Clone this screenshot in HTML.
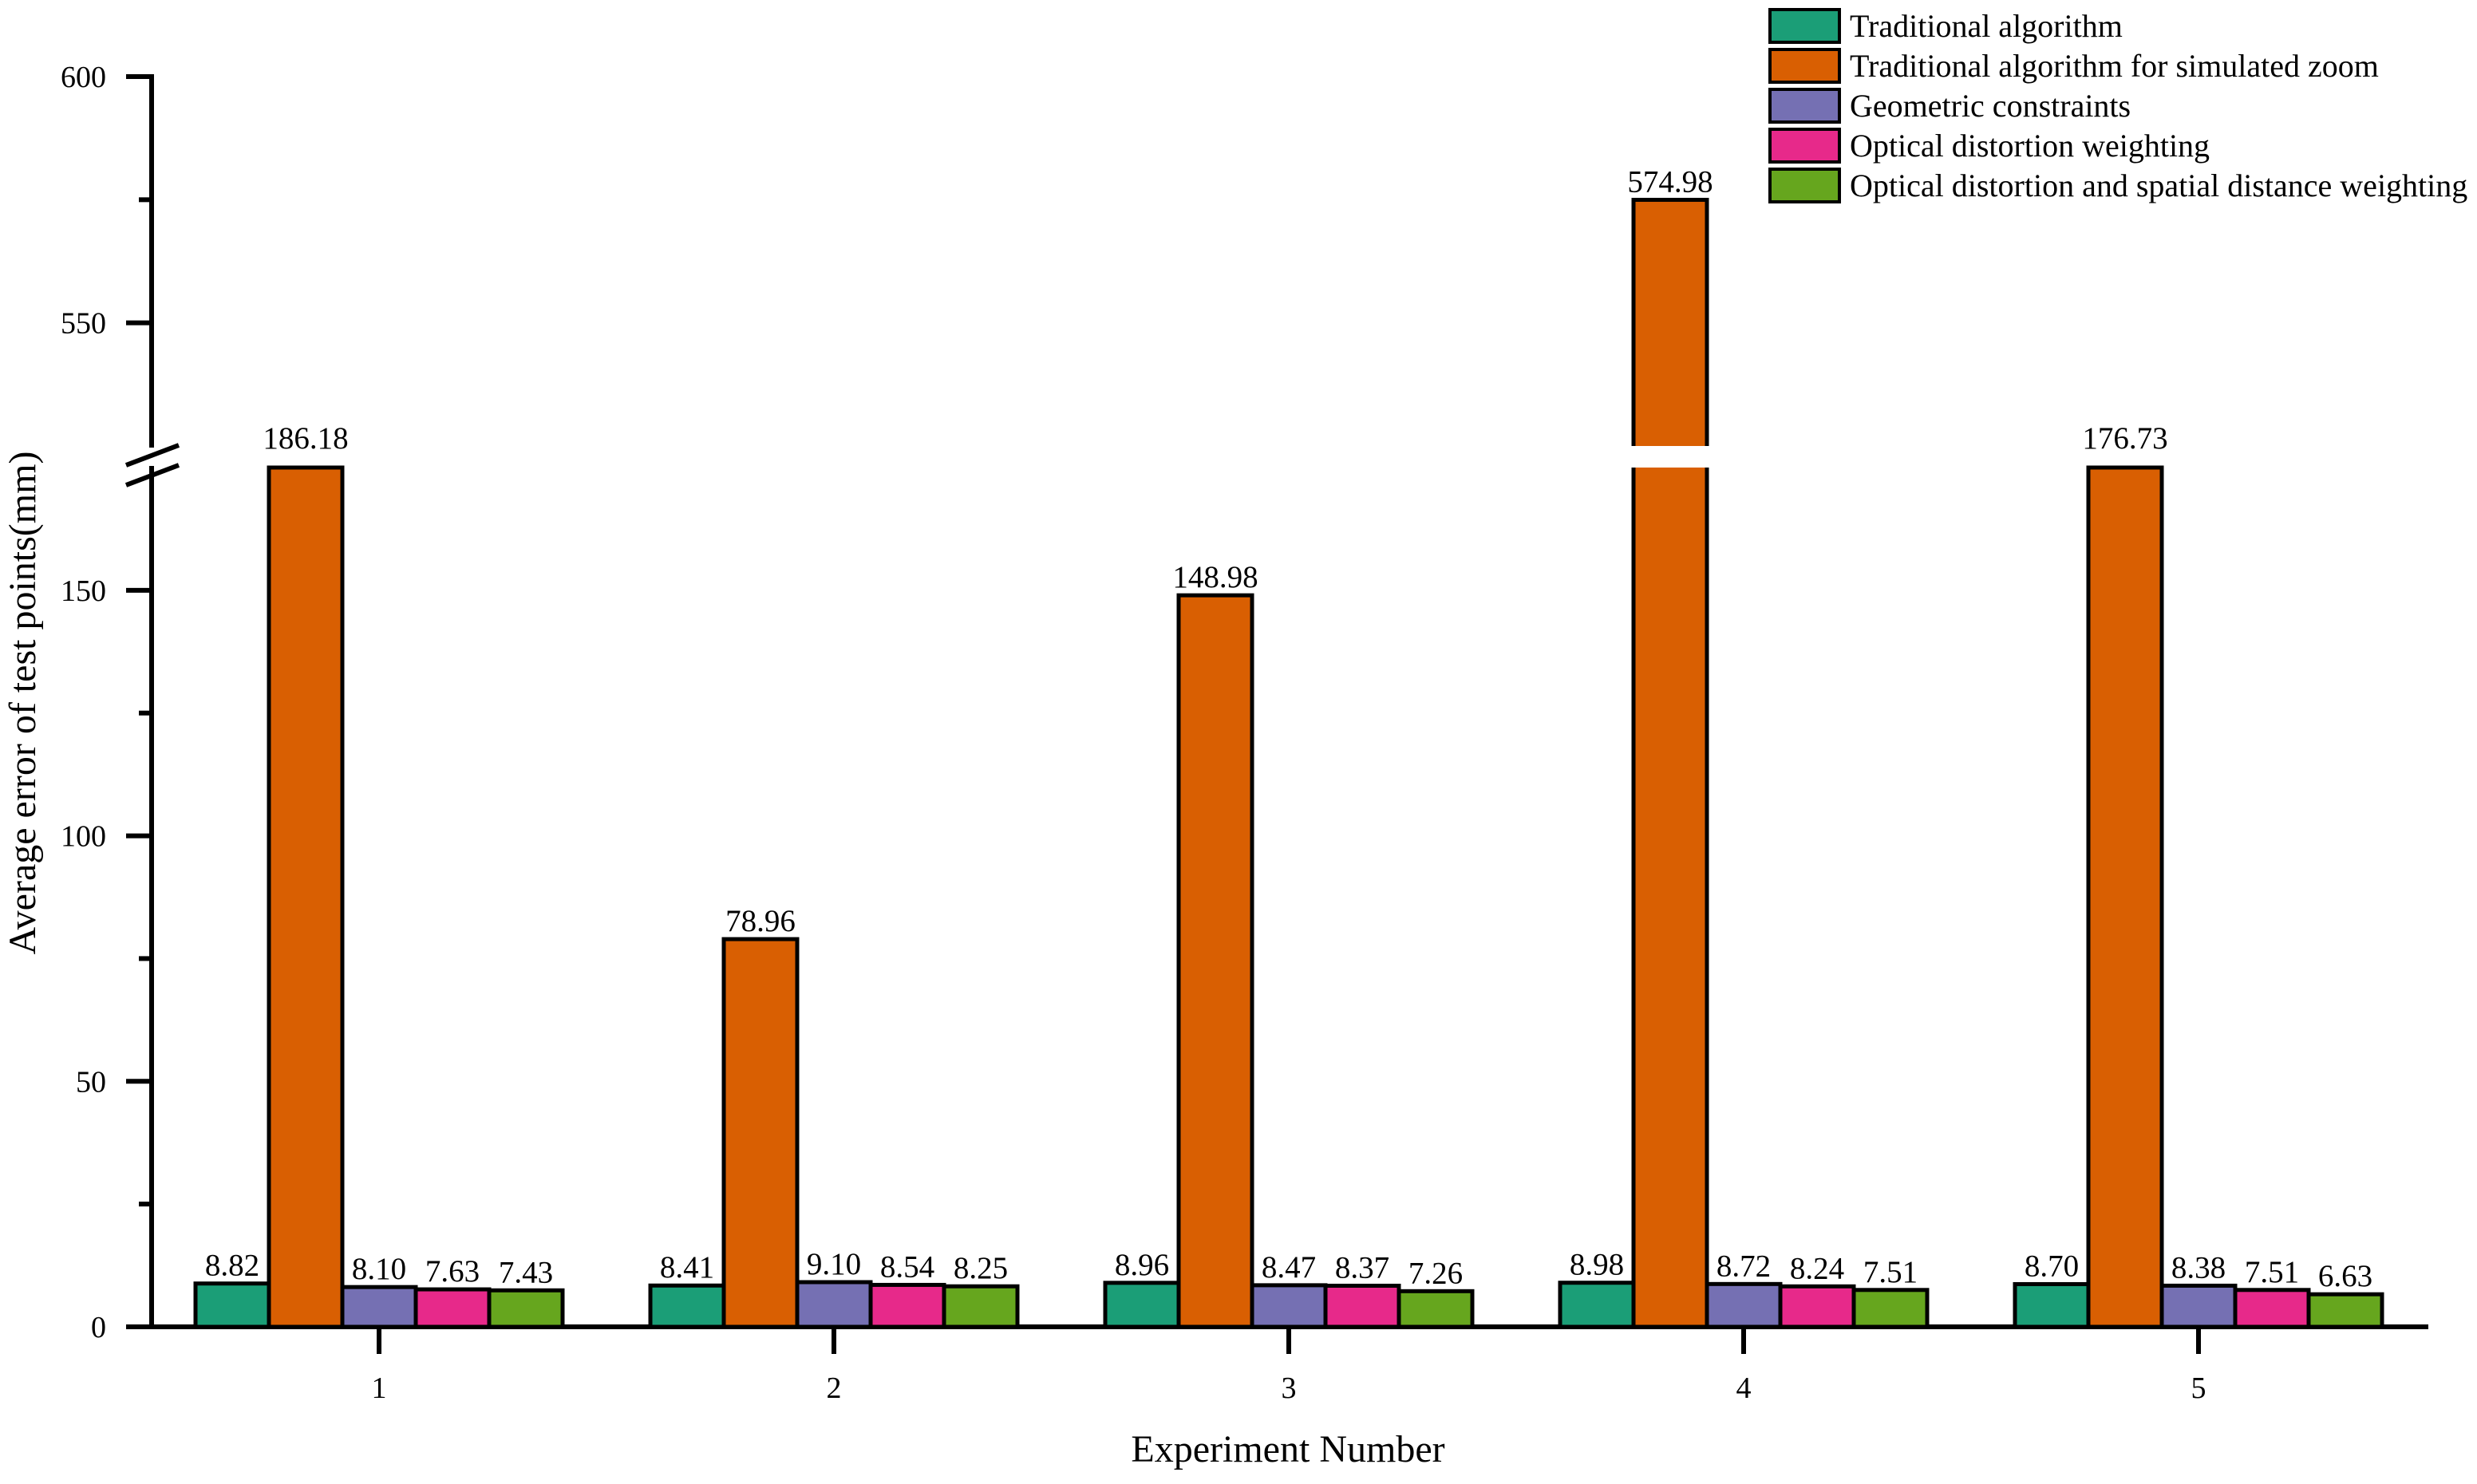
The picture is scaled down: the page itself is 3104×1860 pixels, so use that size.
<!DOCTYPE html>
<html><head><meta charset="utf-8"><style>
html,body{margin:0;padding:0;background:#fff;}
svg{display:block;font-family:"Liberation Serif",serif;}
</style></head><body>
<svg id="chart" width="3104" height="1860" viewBox="0 0 3104 1860">
<g id="axes"></g>
<g id="bars"></g>
<g id="labels"></g>
<text x="1614" y="1832" font-size="48" text-anchor="middle">Experiment Number</text>
<text transform="translate(44,881) rotate(-90)" font-size="48" text-anchor="middle">Average error of test points(mm)</text>
<g id="legend"></g>
</svg>
<script>
const categories = ["1","2","3","4","5"];
const seriesNames = ["Traditional algorithm","Traditional algorithm for simulated zoom","Geometric constraints","Optical distortion weighting","Optical distortion and spatial distance weighting"];
const sTraditional = [8.82, 8.41, 8.96, 8.98, 8.70];
const sSimZoom = [186.18, 78.96, 148.98, 574.98, 176.73];
const sGeometric = [8.10, 9.10, 8.47, 8.72, 8.38];
const sOptical = [7.63, 8.54, 8.37, 8.24, 7.51];
const sOptSpatial = [7.43, 8.25, 7.26, 7.51, 6.63];
const lowerTicks = [0, 50, 100, 150];
const lowerMinor = [25, 75, 125];
const upperTicks = [550, 600];
const upperMinor = [575];
const colors = ["#1b9e77","#d95f02","#7570b3","#e7298a","#66a61e"];
const series = [sTraditional, sSimZoom, sGeometric, sOptical, sOptSpatial];

const NS = "http://www.w3.org/2000/svg";
function mk(tag, attrs, parent){const e=document.createElementNS(NS,tag);for(const k in attrs)e.setAttribute(k,attrs[k]);parent.appendChild(e);return e;}
const LOW_MAX=175, UP_MIN=525, UP_MAX=600;
const y0=1663, yLowTop=586, yUpBot=559, yUpTop=96;
function yLow(v){return y0-(v/LOW_MAX)*(y0-yLowTop);}
function yUp(v){return yUpBot-((v-UP_MIN)/(UP_MAX-UP_MIN))*(yUpBot-yUpTop);}
function yScale(v){return v<=LOW_MAX?yLow(v):(v>=UP_MIN?yUp(v):yLowTop);}
const axisX=190, groupStart=475, groupStep=570, barW=92;
function xCenter(i){return groupStart+i*groupStep;}

const axes=document.getElementById('axes');
let l;
l=mk('line',{x1:axisX,y1:y0,x2:axisX,y2:yLowTop-2,stroke:'#000','stroke-width':6},axes);


l=mk('line',{x1:axisX,y1:yUpBot+2,x2:axisX,y2:yUpTop-3,stroke:'#000','stroke-width':6},axes);


l=mk('line',{x1:158,y1:y0,x2:3043,y2:y0,stroke:'#000','stroke-width':6},axes);


[[yLowTop+12],[yUpBot+14]].forEach((p,k)=>{
  const b=mk('line',{x1:158,y1:p[0]+10,x2:224,y2:p[0]-15,stroke:'#000','stroke-width':6},axes);
  
  
});
function tick(y,len,label){
  const t=mk('line',{x1:axisX-len,y1:y,x2:axisX,y2:y,stroke:'#000','stroke-width':6},axes);
  
  
  if(label!==null){
    const tx=mk('text',{x:133,y:y+13,'font-size':38,'text-anchor':'end'},axes);
    tx.textContent=label;
    
    
  }
}
lowerTicks.forEach(v=>tick(yLow(v),32,String(v)));
lowerMinor.forEach(v=>tick(yLow(v),16,null));
upperTicks.forEach(v=>tick(yUp(v),32,String(v)));
upperMinor.forEach(v=>tick(yUp(v),16,null));
categories.forEach((c,i)=>{
  const t=mk('line',{x1:xCenter(i),y1:y0,x2:xCenter(i),y2:1697,stroke:'#000','stroke-width':6},axes);
  
  
  const tx=mk('text',{x:xCenter(i),y:1752,'font-size':38,'text-anchor':'middle'},axes);
  tx.textContent=c;
  
  
});

const bars=document.getElementById('bars'), labels=document.getElementById('labels');
categories.forEach((c,i)=>{
  series.forEach((s,j)=>{
    const v=s[i];
    const x=xCenter(i)+(j-2.5)*barW;
    const top=yScale(v);
    const r=mk('rect',{x:x,y:top,width:barW,height:y0-top,fill:colors[j],stroke:'#000','stroke-width':5},bars);
    
    
    if(v>=UP_MIN){
      const g=mk('rect',{x:x-4,y:yUpBot,width:barW+8,height:yLowTop-yUpBot,fill:'#fff'},bars);
      
      
    }
    const tx=mk('text',{x:x+barW/2,y:(v>LOW_MAX&&v<UP_MIN?yLowTop-24:top-10),'font-size':39,'text-anchor':'middle'},labels);
    tx.textContent=v.toFixed(2);
    
    
  });
});

const legend=document.getElementById('legend');
seriesNames.forEach((n,j)=>{
  const y=12+j*50;
  const r=mk('rect',{x:2218,y:y,width:87,height:41,fill:colors[j],stroke:'#000','stroke-width':4},legend);
  
  
  const t=mk('text',{x:2318,y:y+34,'font-size':40},legend);
  t.textContent=n;
  
  
});
</script>
</body></html>
